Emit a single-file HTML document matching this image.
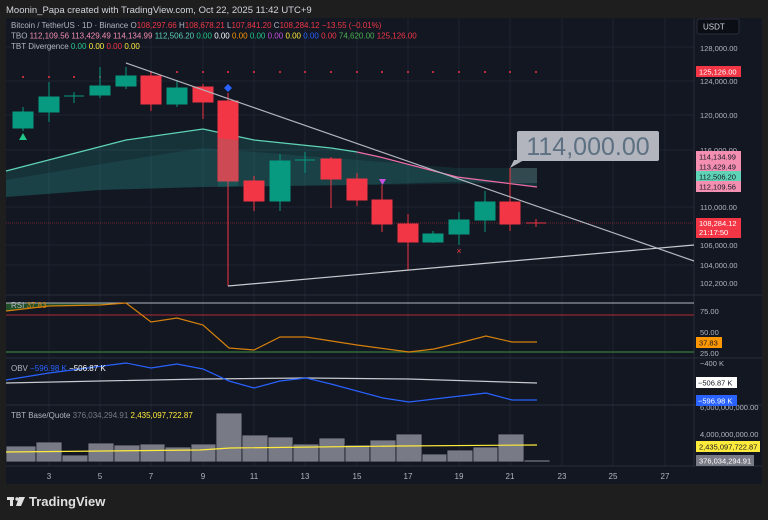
<!DOCTYPE html>
<html><head><meta charset="utf-8"><style>
body{margin:0;width:768px;height:520px;background:#1e1e1e;overflow:hidden;font-family:"Liberation Sans",sans-serif}
svg{display:block}
</style></head><body>
<svg width="768" height="520" viewBox="0 0 768 520" font-family="Liberation Sans, sans-serif">
<rect width="768" height="520" fill="#1e1e1e"/>
<text x="6" y="13" font-size="9.5" fill="#d1d4dc">Moonin_Papa created with TradingView.com, Oct 22, 2025 11:42 UTC+9</text>
<rect x="6" y="18" width="756" height="466" fill="#131722"/>
<g stroke="#1f2330" stroke-width="1">
<line x1="49" y1="18" x2="49" y2="466"/><line x1="100" y1="18" x2="100" y2="466"/><line x1="151" y1="18" x2="151" y2="466"/><line x1="203" y1="18" x2="203" y2="466"/><line x1="254" y1="18" x2="254" y2="466"/><line x1="305" y1="18" x2="305" y2="466"/><line x1="357" y1="18" x2="357" y2="466"/><line x1="408" y1="18" x2="408" y2="466"/><line x1="459" y1="18" x2="459" y2="466"/><line x1="510" y1="18" x2="510" y2="466"/><line x1="562" y1="18" x2="562" y2="466"/><line x1="613" y1="18" x2="613" y2="466"/><line x1="665" y1="18" x2="665" y2="466"/>
<line x1="6" y1="47" x2="694" y2="47"/><line x1="6" y1="81" x2="694" y2="81"/><line x1="6" y1="115" x2="694" y2="115"/><line x1="6" y1="150" x2="694" y2="150"/><line x1="6" y1="207" x2="694" y2="207"/><line x1="6" y1="245" x2="694" y2="245"/><line x1="6" y1="265" x2="694" y2="265"/>
</g>
<line x1="694" y1="18" x2="694" y2="466" stroke="#2a2e39"/>
<line x1="6" y1="466" x2="762" y2="466" stroke="#2a2e39"/>
<line x1="6" y1="295" x2="762" y2="295" stroke="#2a2e39"/>
<line x1="6" y1="358" x2="762" y2="358" stroke="#2a2e39"/>
<line x1="6" y1="405" x2="762" y2="405" stroke="#2a2e39"/>
<g font-size="8">
<text x="11" y="28" fill="#b2b5be">Bitcoin / TetherUS · 1D · Binance <tspan fill="#b2b5be">O</tspan><tspan fill="#f23645">108,297.66</tspan> <tspan fill="#b2b5be">H</tspan><tspan fill="#f23645">108,678.21</tspan> <tspan fill="#b2b5be">L</tspan><tspan fill="#f23645">107,841.20</tspan> <tspan fill="#b2b5be">C</tspan><tspan fill="#f23645">108,284.12 −13.55 (−0.01%)</tspan></text>
<text x="11" y="38.5" fill="#b2b5be">TBO <tspan fill="#f48fb1">112,109.56 113,429.49 114,134.99</tspan> <tspan fill="#5fd3b5">112,506.20</tspan> <tspan fill="#22c78a">0.00</tspan> <tspan fill="#fff">0.00</tspan> <tspan fill="#ff9800">0.00</tspan> <tspan fill="#22c78a">0.00</tspan> <tspan fill="#c850e0">0.00</tspan> <tspan fill="#ffeb3b">0.00</tspan> <tspan fill="#2962ff">0.00</tspan> <tspan fill="#f23645">0.00</tspan> <tspan fill="#4caf50">74,620.00</tspan> <tspan fill="#f23645">125,126.00</tspan></text>
<text x="11" y="49" fill="#b2b5be">TBT Divergence <tspan fill="#22c78a">0.00</tspan> <tspan fill="#ffeb3b">0.00</tspan> <tspan fill="#f23645">0.00</tspan> <tspan fill="#ffeb3b">0.00</tspan></text>
</g>
<polygon points="6,171 126,140 203,129 254,140 331,148 357,152 380,157 457,177 537,187 537,183 450,182 357,185 203,187 100,190 6,197" fill="#26a69a" opacity="0.2"/>
<polygon points="6,180 126,160 203,148 254,152 357,160 457,168 537,168 537,183 357,185 203,187 100,190 6,197" fill="#26a69a" opacity="0.13"/>
<rect x="510" y="168" width="27" height="15" fill="#8aa" opacity="0.25"/>
<polyline points="6,171 126,140 203,129 254,140 331,148 357,152" fill="none" stroke="#5fd3b5" stroke-width="1.3"/>
<polyline points="357,152 380,157 457,177 537,187" fill="none" stroke="#f06ba8" stroke-width="1.3"/>
<g fill="#f23645">
<circle cx="23" cy="77" r="1"/><circle cx="49" cy="77" r="1"/><circle cx="74" cy="77" r="1"/><circle cx="100" cy="77" r="1"/><circle cx="126" cy="77" r="1"/><circle cx="151" cy="72" r="1"/><circle cx="177" cy="72" r="1"/><circle cx="203" cy="72" r="1"/><circle cx="228" cy="72" r="1"/><circle cx="254" cy="72" r="1"/><circle cx="280" cy="72" r="1"/><circle cx="305" cy="72" r="1"/><circle cx="331" cy="72" r="1"/><circle cx="357" cy="72" r="1"/><circle cx="382" cy="72" r="1"/><circle cx="408" cy="72" r="1"/><circle cx="433" cy="72" r="1"/><circle cx="459" cy="72" r="1"/><circle cx="485" cy="72" r="1"/><circle cx="510" cy="72" r="1"/><circle cx="536" cy="72" r="1"/>
</g>
<line x1="6" y1="223" x2="694" y2="223" stroke="#f23645" stroke-opacity="0.4" stroke-dasharray="1,1"/>
<g stroke-width="1">
<g fill="#089981" stroke="#089981">
<line x1="23" y1="107" x2="23" y2="131"/><rect x="13" y="112" width="20" height="16"/>
<line x1="49" y1="82" x2="49" y2="122"/><rect x="39" y="97" width="20" height="15"/>
<line x1="74" y1="92" x2="74" y2="103"/><line x1="64" y1="96" x2="84" y2="96"/>
<line x1="100" y1="67" x2="100" y2="98"/><rect x="90" y="86" width="20" height="9"/>
<line x1="126" y1="67" x2="126" y2="89"/><rect x="116" y="76" width="20" height="10"/>
<line x1="177" y1="80" x2="177" y2="107"/><rect x="167" y="88" width="20" height="16"/>
<line x1="280" y1="154" x2="280" y2="211"/><rect x="270" y="161" width="20" height="40"/>
<line x1="305" y1="152" x2="305" y2="173"/><line x1="295" y1="160" x2="315" y2="160"/>
<line x1="433" y1="231" x2="433" y2="243"/><rect x="423" y="234" width="20" height="8"/>
<line x1="459" y1="212" x2="459" y2="245"/><rect x="449" y="220" width="20" height="14"/>
<line x1="485" y1="191" x2="485" y2="232"/><rect x="475" y="202" width="20" height="18"/>
</g>
<g fill="#f23645" stroke="#f23645">
<line x1="151" y1="72" x2="151" y2="111"/><rect x="141" y="76" width="20" height="28"/>
<line x1="203" y1="84" x2="203" y2="119"/><rect x="193" y="87" width="20" height="15"/>
<line x1="228" y1="93" x2="228" y2="286"/><rect x="218" y="101" width="20" height="80"/>
<line x1="254" y1="176" x2="254" y2="211"/><rect x="244" y="181" width="20" height="20"/>
<line x1="331" y1="157" x2="331" y2="208"/><rect x="321" y="159" width="20" height="20"/>
<line x1="357" y1="173" x2="357" y2="206"/><rect x="347" y="179" width="20" height="21"/>
<line x1="382" y1="185" x2="382" y2="232"/><rect x="372" y="200" width="20" height="24"/>
<line x1="408" y1="214" x2="408" y2="270"/><rect x="398" y="224" width="20" height="18"/>
<line x1="510" y1="168" x2="510" y2="231"/><rect x="500" y="202" width="20" height="22"/>
<line x1="536" y1="219" x2="536" y2="227"/><line x1="526" y1="223" x2="546" y2="223"/>
</g>
</g>
<polygon points="218,138 238,140 238,186 218,187" fill="#26a69a" opacity="0.18"/>
<line x1="126" y1="63" x2="694" y2="261" stroke="#b2b5be" stroke-width="1.2"/>
<line x1="228" y1="286" x2="694" y2="245" stroke="#c8cad0" stroke-width="1.2"/>
<polygon points="23,133 27,140 19,140" fill="#22c78a"/>
<polygon points="228,84 232,88 228,92 224,88" fill="#2962ff"/>
<polygon points="379,179 386,179 382.5,185" fill="#c850e0"/>
<text x="459" y="254" font-size="9" fill="#f23645" text-anchor="middle">×</text>
<polygon points="514,160 524,160 510,168" fill="#b2b5be"/>
<rect x="517" y="131" width="142" height="30" rx="2" fill="#b2b5be"/>
<text x="588" y="155" font-size="25" fill="#5d7182" text-anchor="middle">114,000.00</text>
<polygon points="6,311 49,306 100,305 126,303 6,303" fill="#2e7d32" opacity="0.55"/>
<line x1="6" y1="303" x2="694" y2="303" stroke="#b2b5be" stroke-width="1"/>
<line x1="6" y1="315" x2="694" y2="315" stroke="#b22833" stroke-width="1"/>
<line x1="6" y1="352" x2="694" y2="352" stroke="#2e6b35" stroke-width="1.5"/>
<polyline points="6,311 49,306 100,305 126,303 151,322 177,318 203,325 229,348 254,350 280,337 306,337 357,345 409,352 434,349 459,343 486,336 512,342 537,342" fill="none" stroke="#d6800b" stroke-width="1.2"/>
<text x="11" y="308" font-size="8" fill="#b2b5be">RSI <tspan fill="#d6800b">37.83</tspan></text>
<polyline points="6,383 100,381 203,379 306,378 409,379 537,383" fill="none" stroke="#c8cad0" stroke-width="1.2"/>
<polyline points="6,380 49,373 126,363 151,368 177,364 203,369 229,381 254,388 280,381 306,378 331,384 383,398 409,402 486,393 512,400 537,400" fill="none" stroke="#2962ff" stroke-width="1.2"/>
<text x="11" y="371" font-size="8" fill="#b2b5be">OBV <tspan fill="#2962ff">−596.98 K</tspan> <tspan fill="#fff">−506.87 K</tspan></text>
<g fill="#787b86" stroke="#131722" stroke-width="0.8">
<rect x="6" y="446" width="30" height="16"/><rect x="36" y="442" width="26" height="20"/><rect x="62" y="455" width="26" height="7"/><rect x="88" y="443" width="26" height="19"/><rect x="114" y="445" width="26" height="17"/><rect x="140" y="444" width="25" height="18"/><rect x="165" y="447" width="26" height="15"/><rect x="191" y="444" width="25" height="18"/><rect x="216" y="413" width="26" height="49"/><rect x="242" y="435" width="26" height="27"/><rect x="268" y="437" width="25" height="25"/><rect x="293" y="444" width="26" height="18"/><rect x="319" y="438" width="26" height="24"/><rect x="345" y="445" width="25" height="17"/><rect x="370" y="440" width="26" height="22"/><rect x="396" y="434" width="26" height="28"/><rect x="422" y="454" width="25" height="8"/><rect x="447" y="450" width="26" height="12"/><rect x="473" y="447" width="25" height="15"/><rect x="498" y="434" width="26" height="28"/><rect x="524" y="460" width="26" height="2"/>
</g>
<polyline points="6,452 200,450 230,448 400,446 537,445" fill="none" stroke="#ffeb3b" stroke-width="1.2"/>
<text x="11" y="418" font-size="8" fill="#b2b5be">TBT Base/Quote <tspan fill="#787b86">376,034,294.91</tspan> <tspan fill="#ffeb3b">2,435,097,722.87</tspan></text>
<g font-size="8" fill="#b2b5be" text-anchor="middle">
<text x="49" y="479">3</text><text x="100" y="479">5</text><text x="151" y="479">7</text><text x="203" y="479">9</text><text x="254" y="479">11</text><text x="305" y="479">13</text><text x="357" y="479">15</text><text x="408" y="479">17</text><text x="459" y="479">19</text><text x="510" y="479">21</text><text x="562" y="479">23</text><text x="613" y="479">25</text><text x="665" y="479">27</text>
</g>
<rect x="697" y="19" width="42" height="15" rx="2" fill="#0c0e15" stroke="#2a2e39"/>
<text x="703" y="29.5" font-size="8" fill="#d1d4dc">USDT</text>
<g font-size="7.5" fill="#b2b5be">
<text x="700" y="51">128,000.00</text>
<text x="700" y="84">124,000.00</text>
<text x="700" y="118">120,000.00</text>
<text x="700" y="153">116,000.00</text>
<text x="700" y="210">110,000.00</text>
<text x="700" y="248">106,000.00</text>
<text x="700" y="268">104,000.00</text>
<text x="700" y="286">102,200.00</text>
<text x="700" y="314">75.00</text>
<text x="700" y="335">50.00</text>
<text x="700" y="356">25.00</text>
<text x="700" y="366">−400 K</text>
<text x="700" y="410">6,000,000,000.00</text>
<text x="700" y="437">4,000,000,000.00</text>
</g>
<g font-size="7.5">
<rect x="696" y="66" width="45" height="11" fill="#f23645"/><text x="699" y="74.5" fill="#fff">125,126.00</text>
<rect x="696" y="151" width="45" height="11" fill="#f48fb1"/><text x="699" y="159.5" fill="#131722">114,134.99</text>
<rect x="696" y="161" width="45" height="11" fill="#f48fb1"/><text x="699" y="169.5" fill="#131722">113,429.49</text>
<rect x="696" y="171" width="45" height="11" fill="#5fd3b5"/><text x="699" y="179.5" fill="#131722">112,506.20</text>
<rect x="696" y="181" width="45" height="11" fill="#f48fb1"/><text x="699" y="189.5" fill="#131722">112,109.56</text>
<rect x="696" y="218" width="45" height="20" fill="#f23645"/><text x="699" y="226" fill="#fff">108,284.12</text><text x="699" y="235" fill="#fff">21:17:50</text>
<rect x="696" y="337" width="26" height="11" fill="#ff9800"/><text x="699" y="345.5" fill="#131722">37.83</text>
<rect x="696" y="377" width="41" height="11" fill="#fff"/><text x="698" y="385.5" fill="#131722">−506.87 K</text>
<rect x="696" y="395" width="41" height="11" fill="#2962ff"/><text x="698" y="403.5" fill="#fff">−596.98 K</text>
<rect x="696" y="441" width="64" height="11" fill="#ffeb3b"/><text x="699" y="449.5" fill="#131722">2,435,097,722.87</text>
<rect x="696" y="455" width="58" height="11" fill="#787b86"/><text x="699" y="463.5" fill="#fff">376,034,294.91</text>
</g>
<g fill="#e0e0e0">
<rect x="7" y="497" width="7" height="3"/><rect x="10" y="497" width="3" height="9"/>
<circle cx="17" cy="499" r="1.7"/><polygon points="19,497 25,497 21,506 16,506"/>
</g>
<text x="29" y="506" font-size="13" font-weight="bold" fill="#e0e0e0">TradingView</text>
</svg>
</body></html>
